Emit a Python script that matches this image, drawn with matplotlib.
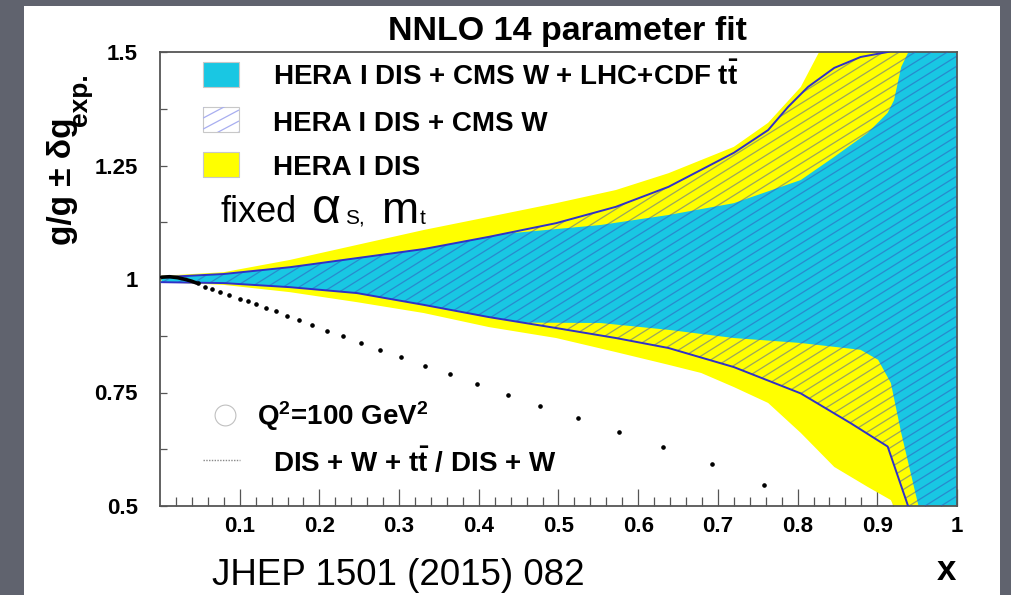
import matplotlib
matplotlib.use('Agg')
import matplotlib.pyplot as plt
import numpy as np
from matplotlib.patches import Polygon, Rectangle
from matplotlib.collections import LineCollection
from matplotlib.lines import Line2D
from matplotlib.transforms import Affine2D, Bbox, TransformedBbox

plt.rcParams['font.family'] = 'Liberation Sans'
plt.rcParams['mathtext.fontset'] = 'custom'
plt.rcParams['mathtext.rm'] = 'Liberation Sans'
plt.rcParams['mathtext.bf'] = 'Liberation Sans:bold'
plt.rcParams['mathtext.it'] = 'Liberation Sans:italic'

# HERA I DIS band (yellow)
yellow_up_x = [0.002, 0.080, 0.163, 0.247, 0.331, 0.413, 0.497, 0.572, 0.638, 0.720, 0.763, 0.804, 0.827, 0.90, 1.0]
yellow_up_y = [1.007, 1.015, 1.042, 1.075, 1.108, 1.137, 1.167, 1.196, 1.233, 1.291, 1.344, 1.423, 1.5, 1.7, 1.7]
yellow_lo_x = [0.002, 0.080, 0.163, 0.247, 0.331, 0.413, 0.497, 0.572, 0.638, 0.679, 0.720, 0.763, 0.804, 0.846, 0.888, 0.917, 0.921, 1.0]
yellow_lo_y = [0.993, 0.987, 0.971, 0.949, 0.925, 0.894, 0.870, 0.839, 0.811, 0.793, 0.762, 0.727, 0.661, 0.586, 0.542, 0.513, 0.498, 0.3]

# HERA I DIS + CMS W band (hatched, blue outline)
hatch_up_x = [0.002, 0.080, 0.163, 0.247, 0.331, 0.413, 0.497, 0.572, 0.638, 0.720, 0.763, 0.788, 0.813, 0.846, 0.879, 0.913, 1.0]
hatch_up_y = [1.004, 1.011, 1.026, 1.046, 1.066, 1.093, 1.123, 1.159, 1.203, 1.278, 1.328, 1.379, 1.423, 1.465, 1.489, 1.5, 1.56]
hatch_lo_x = [0.002, 0.080, 0.163, 0.247, 0.331, 0.413, 0.497, 0.572, 0.638, 0.720, 0.804, 0.867, 0.913, 0.939, 1.0]
hatch_lo_y = [0.993, 0.991, 0.982, 0.969, 0.943, 0.916, 0.892, 0.870, 0.848, 0.806, 0.748, 0.682, 0.631, 0.498, 0.2]

# HERA I DIS + CMS W + LHC+CDF ttbar band (cyan)
cyan_up_x = [0.002, 0.080, 0.163, 0.247, 0.331, 0.413, 0.435, 0.553, 0.638, 0.720, 0.804, 0.846, 0.888, 0.913, 0.921, 0.930, 0.939, 1.0]
cyan_up_y = [1.004, 1.011, 1.026, 1.046, 1.066, 1.093, 1.100, 1.119, 1.141, 1.167, 1.218, 1.269, 1.322, 1.366, 1.394, 1.467, 1.5, 1.7]
cyan_lo_x = [0.002, 0.080, 0.163, 0.247, 0.331, 0.413, 0.456, 0.553, 0.638, 0.720, 0.804, 0.879, 0.901, 0.917, 0.930, 0.946, 0.952, 1.0]
cyan_lo_y = [0.993, 0.991, 0.982, 0.969, 0.943, 0.916, 0.904, 0.903, 0.888, 0.870, 0.859, 0.844, 0.822, 0.771, 0.661, 0.542, 0.498, 0.3]

# ratio DIS+W+ttbar / DIS+W
ratio_line_x = [0.002, 0.012, 0.022, 0.032, 0.040, 0.046]
ratio_line_y = [1.004, 1.005, 1.003, 0.999, 0.995, 0.991]
ratio_dot_x = [0.048, 0.0565, 0.065, 0.075, 0.087, 0.100, 0.111, 0.121, 0.133, 0.145, 0.159, 0.174,
               0.191, 0.210, 0.230, 0.252, 0.276, 0.303, 0.332, 0.364, 0.398, 0.437, 0.477, 0.525,
               0.576, 0.631, 0.692, 0.758]
ratio_dot_y = [0.991, 0.983, 0.977, 0.971, 0.965, 0.957, 0.952, 0.944, 0.936, 0.929, 0.919, 0.909,
               0.898, 0.886, 0.874, 0.859, 0.844, 0.828, 0.809, 0.790, 0.769, 0.745, 0.720, 0.694,
               0.664, 0.631, 0.593, 0.546]

x_ticks = [0.1, 0.2, 0.3, 0.4, 0.5, 0.6, 0.7, 0.8, 0.9, 1.0]
x_ticklabels = ['0.1', '0.2', '0.3', '0.4', '0.5', '0.6', '0.7', '0.8', '0.9', '1']
y_ticks = [0.5, 0.75, 1.0, 1.25, 1.5]
y_ticklabels = ['0.5', '0.75', '1', '1.25', '1.5']

W, H = 1012, 595
CYAN = '#19c7e3'
YELLOW = '#ffff00'
BLUE = '#3030c8'
HATCH = (0.22, 0.30, 0.72, 0.5)


def band(xu, yu, xl, yl):
    return np.column_stack([np.r_[xu, xl[::-1]], np.r_[yu, yl[::-1]]])


def hatch_fill(ax, clip, clipbox, x0, y0, w, h, spacing, angle, transform, color, lw, flip=False):
    # diagonal lines in pixel-like units, clipped to a patch and a box
    t = np.tan(np.radians(angle))
    segs = []
    c = -w * t
    while c < h:
        if flip:
            segs.append([(x0, y0 + h - c), (x0 + w, y0 + h - (w * t + c))])
        else:
            segs.append([(x0, y0 + c), (x0 + w, y0 + w * t + c)])
        c += spacing
    lc = LineCollection(segs, transform=transform, colors=[color], linewidths=lw, zorder=3)
    ax.add_collection(lc, autolim=False)
    lc.set_clip_path(clip)
    lc.set_clip_box(clipbox)


fig = plt.figure(figsize=(W / 100, H / 100), dpi=100)
fig.patch.set_facecolor('#60636e')
fig.add_artist(Rectangle((24 / W, 0), 976 / W, 589 / H, transform=fig.transFigure,
                         facecolor='white', edgecolor='none', zorder=0))

ax_l, ax_r, ax_t, ax_b = 160, 957, 52, 506
ax = fig.add_axes([ax_l / W, 1 - ax_b / H, (ax_r - ax_l) / W, (ax_b - ax_t) / H])
ax.set_facecolor('white')
ax.set_axisbelow(True)

ax.fill(*band(yellow_up_x, yellow_up_y, yellow_lo_x, yellow_lo_y).T, color=YELLOW, lw=0, zorder=1)
ax.fill(*band(cyan_up_x, cyan_up_y, cyan_lo_x, cyan_lo_y).T, color=CYAN, lw=0, zorder=2)

hpoly = Polygon(band(hatch_up_x, hatch_up_y, hatch_lo_x, hatch_lo_y), closed=True,
                facecolor='none', edgecolor='none')
ax.add_patch(hpoly)
aw, ah = ax_r - ax_l, ax_b - ax_t
trans_px = Affine2D().scale(1 / aw, 1 / ah) + ax.transAxes
hatch_fill(ax, hpoly, ax.bbox, 0, 0, aw, ah, 10, 32, trans_px, HATCH, 0.9)

ax.plot(hatch_up_x, hatch_up_y, color=BLUE, lw=1.4, zorder=4)
ax.plot(hatch_lo_x, hatch_lo_y, color=BLUE, lw=1.4, zorder=4)

ax.plot(ratio_line_x, ratio_line_y, color='black', lw=2.6, zorder=5, solid_capstyle='round')
ax.plot(ratio_dot_x, ratio_dot_y, ls='none', marker='o', ms=2.3, color='black', zorder=5)

ax.set_xlim(0, 1)
ax.set_ylim(0.5, 1.5)
ax.set_xticks(x_ticks)
ax.set_xticklabels(x_ticklabels)
ax.set_xticks(np.arange(0.02, 1.0, 0.02), minor=True)
ax.set_yticks(y_ticks)
ax.set_yticklabels(y_ticklabels)
ax.set_yticks([0.625, 0.875, 1.125, 1.375], minor=True)
ax.tick_params(axis='x', which='major', direction='in', length=12, width=0.9, color='#555555',
               pad=7, labelsize=16)
ax.tick_params(axis='x', which='minor', direction='in', length=6.5, width=0.9, color='#555555')
ax.tick_params(axis='y', which='both', direction='in', length=5, width=0.9, color='#555555',
               pad=16, labelsize=16)
for lab in ax.get_xticklabels() + ax.get_yticklabels():
    lab.set_fontweight('bold')
for sp in ax.spines.values():
    sp.set_color('#555555')
    sp.set_linewidth(1.3)

# overlay in pixel coordinates for legend and annotations
ov = fig.add_axes([0, 0, 1, 1], zorder=5)
ov.set_xlim(0, W)
ov.set_ylim(H, 0)
ov.axis('off')

boxes = [(62, CYAN), (107, 'white'), (152, YELLOW)]
for top, fc in boxes:
    r = Rectangle((203, top), 36, 25, facecolor=fc, edgecolor='#c8c8c8', lw=0.8, zorder=2)
    ov.add_patch(r)
    if fc == 'white':
        rbox = TransformedBbox(Bbox([[203, top], [239, top + 25]]), ov.transData)
        hatch_fill(ov, r, rbox, 203, top, 36, 25, 11, 28, ov.transData, '#a8aef0', 0.9, flip=True)

leg_fs = 20
ov.text(273, 85, r'HERA I DIS + CMS W + LHC+CDF t$\mathbf{\bar{t}}$', fontsize=leg_fs,
        fontweight='bold', va='baseline')
ov.text(273, 131, 'HERA I DIS + CMS W', fontsize=leg_fs, fontweight='bold', va='baseline')
ov.text(273, 175, 'HERA I DIS', fontsize=leg_fs, fontweight='bold', va='baseline')

ov.text(221, 222, 'fixed', fontsize=26, va='baseline')
ov.text(312, 223, 'α', fontsize=36, va='baseline')
ov.text(345, 224, 'S,', fontsize=15, va='baseline')
ov.text(382, 223, 'm', fontsize=32, va='baseline')
ov.text(420, 224, 't', fontsize=15, va='baseline')

ov.plot([225], [415], marker='o', ms=15, mfc='none', mec='#c0c0c0', mew=0.8)
ov.text(257, 425, 'Q$^{\\mathbf{2}}$=100 GeV$^{\\mathbf{2}}$', fontsize=leg_fs, fontweight='bold',
        va='baseline')
ov.add_line(Line2D([203, 240], [460, 460], color='#888888', lw=1.0, ls=(0, (1, 1))))
ov.text(273, 472, r'DIS + W + t$\mathbf{\bar{t}}$ / DIS + W', fontsize=leg_fs, fontweight='bold',
        va='baseline')

ov.text(567, 40, 'NNLO 14 parameter fit', fontsize=24.5, fontweight='bold', ha='center',
        va='baseline')
ov.text(63, 245, 'g/g ± δg', fontsize=24, fontweight='bold', rotation=90, ha='center',
        va='bottom')
ov.text(80, 126, 'exp.', fontsize=19, fontweight='bold', rotation=90, ha='center', va='bottom')

ov.text(212, 585, 'JHEP 1501 (2015) 082', fontsize=26.5, va='baseline')
ov.text(956, 580, 'x', fontsize=25, fontweight='bold', ha='right', va='baseline')

fig.savefig('out.png', dpi=100, facecolor=fig.get_facecolor())
